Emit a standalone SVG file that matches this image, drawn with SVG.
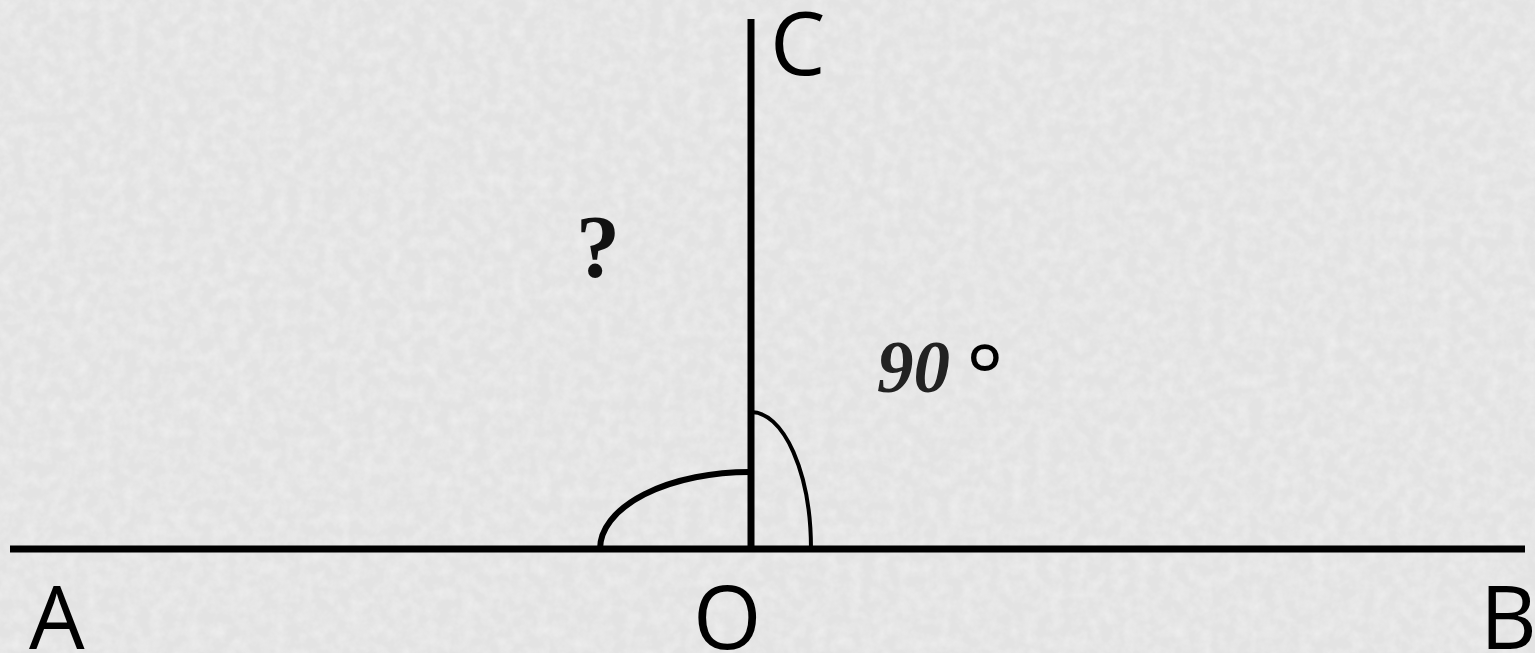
<svg xmlns="http://www.w3.org/2000/svg" width="1535" height="653" viewBox="0 0 1535 653">
<style>
.ln{stroke:#000;fill:none;stroke-linecap:butt}
.lbl{font-family:"Open Sans","Noto Sans","DejaVu Sans",sans-serif;font-size:88px;fill:#000}
.ser{font-family:"Liberation Serif","Times New Roman",serif;font-weight:bold}
</style>
<defs>
<filter id="tex" x="0" y="0" width="100%" height="100%">
<feTurbulence type="fractalNoise" baseFrequency="0.08" numOctaves="3" seed="4" result="n"/>
<feColorMatrix in="n" type="matrix" values="0 0 0 0 1  0 0 0 0 1  0 0 0 0 1  0 0 0 -1.2 0.8" result="w"/>
<feComposite in="w" in2="SourceGraphic" operator="in"/>
</filter>
</defs>
<rect x="0" y="0" width="1535" height="653" fill="#e3e3e3"/>
<rect x="0" y="0" width="1535" height="653" fill="#e3e3e3" filter="url(#tex)" opacity="0.5"/>
<g id="connectors">
<line class="ln" x1="10" y1="549" x2="1525" y2="549" stroke-width="7"/>
<line class="ln" x1="751" y1="19" x2="751" y2="549" stroke-width="7"/>
<path class="ln" d="M600,549 A150,77 0 0 1 751,472" stroke-width="6"/>
<path class="ln" d="M751,412 A60,137 0 0 1 811,549" stroke-width="4"/>
</g>
<g id="A"><text class="lbl" x="29" y="649">A</text></g>
<g id="B"><text class="lbl" x="1480" y="649">B</text></g>
<g id="O"><text class="lbl" x="693" y="649">O</text></g>
<g id="C"><text class="lbl" x="770" y="75">C</text></g>
<g id="q"><text class="ser" x="576" y="276" font-size="88" fill="#111">?</text></g>
<g id="angle90">
<text class="ser" x="877" y="392" font-size="73" font-style="italic" fill="#222">90</text>
<text class="lbl" x="966" y="408">°</text>
</g>
</svg>
